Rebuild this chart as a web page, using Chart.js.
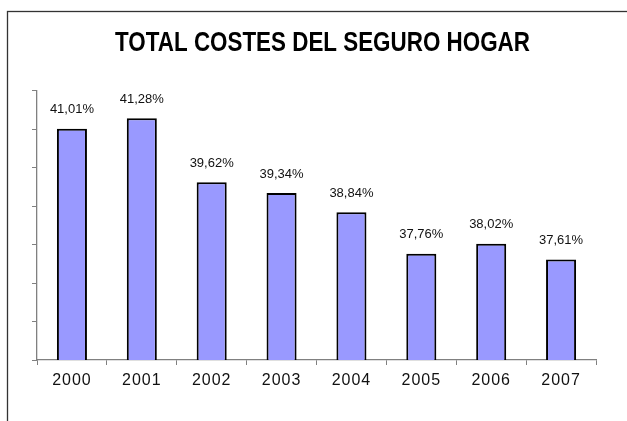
<!DOCTYPE html>
<html>
<head>
<meta charset="utf-8">
<script src="https://cdn.jsdelivr.net/npm/chart.js@4/dist/chart.umd.min.js"></script>
<style>
  html, body { margin: 0; padding: 0; background: #fff; }
  #wrap { width: 627px; height: 421px; position: relative; }
</style>
</head>
<body>
<div id="wrap"><canvas id="costChart" width="627" height="421"></canvas></div>
<script>
// data
var years = ['2000', '2001', '2002', '2003', '2004', '2005', '2006', '2007'];
var costes = [41.01, 41.28, 39.62, 39.34, 38.84, 37.76, 38.02, 37.61];
var yMin = 35, yMax = 42, yStep = 1;
var chartTitle = 'TOTAL COSTES DEL SEGURO HOGAR';

function pct(v) {
    return v.toFixed(2).replace('.', ',') + '%';
}

// outer frame of the chart object
var framePlugin = {
    id: 'frame',
    beforeDraw: function (chart) {
        var ctx = chart.ctx;
        ctx.save();
        ctx.fillStyle = '#fff';
        ctx.fillRect(0, 0, chart.width, chart.height);
        ctx.strokeStyle = '#333';
        ctx.lineWidth = 1.3;
        ctx.strokeRect(7.5, 11.5, 1000, 1000);
        ctx.restore();
    }
};

// values written above each bar
var valueLabels = {
    id: 'valueLabels',
    afterDatasetsDraw: function (chart) {
        var ctx = chart.ctx;
        var meta = chart.getDatasetMeta(0);
        ctx.save();
        ctx.font = '13px "Liberation Sans", Arial, sans-serif';
        ctx.fillStyle = '#111';
        ctx.textAlign = 'center';
        ctx.textBaseline = 'middle';
        meta.data.forEach(function (bar, i) {
            ctx.fillText(pct(costes[i]), bar.x, bar.y - 19);
        });
        ctx.restore();
    }
};

// narrow title centred over the frame, spaced year labels
var textTweaks = {
    id: 'textTweaks',
    afterUpdate: function (chart) {
        var s = chart.scales.x;
        if (s && !s._spaced) {
            var origLabels = s.drawLabels.bind(s);
            s.drawLabels = function (area) {
                chart.ctx.save();
                chart.ctx.letterSpacing = '1px';
                origLabels(area);
                chart.ctx.restore();
            };
            s._spaced = true;
        }
        var tb = chart.titleBlock;
        if (tb && !tb._narrow) {
            var origTitle = tb.draw.bind(tb);
            tb.draw = function () {
                var c = chart.ctx;
                var mid = (tb.left + tb.right) / 2;
                var target = 322.5;
                c.save();
                c.translate(target, 0);
                c.scale(0.8, 1);
                c.translate(-mid, 0);
                origTitle();
                c.restore();
            };
            tb._narrow = true;
        }
    }
};

var ctx = document.getElementById('costChart');
var costChart = new Chart(ctx, {
    type: 'bar',
    data: {
        labels: years,
        datasets: [
            {
                data: costes,
                backgroundColor: '#9999FF',
                borderColor: '#000',
                borderWidth: 2,
                borderSkipped: false,
                barPercentage: 0.43,
                categoryPercentage: 1
            }
        ]
    },
    options: {
        responsive: false,
        animation: false,
        layout: { padding: { top: 10, right: 31, left: 0, bottom: 0 } },
        plugins: {
            legend: { display: false },
            tooltip: { enabled: false },
            title: {
                display: true,
                text: chartTitle,
                color: '#000',
                font: { family: '"Liberation Sans", Arial, sans-serif', size: 28, weight: 'bold', lineHeight: 1.2 },
                padding: { top: 16, bottom: 31 }
            }
        },
        scales: {
            x: {
                grid: {
                    offset: true,
                    drawOnChartArea: false,
                    tickLength: 5,
                    color: '#808080'
                },
                border: { color: '#808080', width: 1.3 },
                ticks: {
                    color: '#111',
                    padding: 6,
                    font: { family: '"Liberation Sans", Arial, sans-serif', size: 16 }
                },
                afterFit: function (scale) { scale.height = 61; }
            },
            y: {
                min: yMin,
                max: yMax,
                grid: {
                    drawOnChartArea: false,
                    tickLength: 5,
                    color: '#808080'
                },
                border: { color: '#808080', width: 1.3 },
                ticks: { stepSize: yStep, display: false },
                afterFit: function (scale) { scale.width = 37; }
            }
        }
    },
    plugins: [framePlugin, valueLabels, textTweaks]
});
</script>
</body>
</html>
